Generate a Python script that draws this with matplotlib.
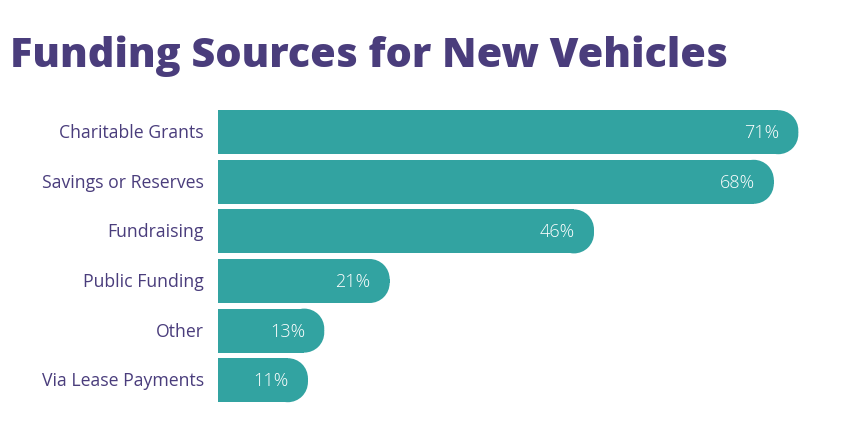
import matplotlib
matplotlib.use('Agg')
import matplotlib.pyplot as plt
from matplotlib.patches import Ellipse, Rectangle

categories = ['Charitable Grants', 'Savings or Reserves', 'Fundraising',
              'Public Funding', 'Other', 'Via Lease Payments']
values = [71, 68, 46, 21, 13, 11]
value_labels = ['71%', '68%', '46%', '21%', '13%', '11%']

TEAL = '#32a3a1'
PURPLE = '#4a3d7c'

plt.rcParams['font.family'] = ['Open Sans', 'DejaVu Sans']

fig = plt.figure(figsize=(8.47, 4.39), dpi=100)
ax_l, ax_b, ax_w, ax_h = 218 / 847, 1 - 406 / 439, 613 / 847, 297.6 / 439
ax = fig.add_axes([ax_l, ax_b, ax_w, ax_h])
ax.set_xlim(0, 75)
ax.set_ylim(len(categories) - 0.5, -0.5)

# data units per pixel, so the round ends look circular
px_x = 75 / 613
px_y = 6 / 297.6
rx = 20 * px_x
ry = 20 * px_y
bar_h = 44 * px_y


def rounded_bar(ax, y, length):
    y0 = y - bar_h / 2
    ax.add_patch(Rectangle((0, y0), length - rx, bar_h, fc=TEAL, ec='none', lw=0))
    ax.add_patch(Rectangle((length - rx - 0.05, y0 + ry), rx + 0.05, bar_h - 2 * ry,
                           fc=TEAL, ec='none', lw=0))
    for cy in (y0 + ry, y0 + bar_h - ry):
        ax.add_patch(Ellipse((length - rx, cy), 2 * rx, 2 * ry,
                             fc=TEAL, ec='none', lw=0))


for i, (v, lab) in enumerate(zip(values, value_labels)):
    rounded_bar(ax, i, v)
    ax.text(v - 19 * px_x, i, lab, ha='right', va='center',
            color='white', fontsize=13, fontweight='light')
    ax.text(-14 * px_x, i, categories[i], ha='right', va='center',
            color=PURPLE, fontsize=12.7)

ax.axis('off')

fig.text(10 / 847, 1 - 56 / 439, 'Funding Sources for New Vehicles',
         ha='left', va='center', color=PURPLE, fontsize=29.8,
         fontweight='heavy')

fig.savefig('out.png', dpi=100, facecolor='white')
